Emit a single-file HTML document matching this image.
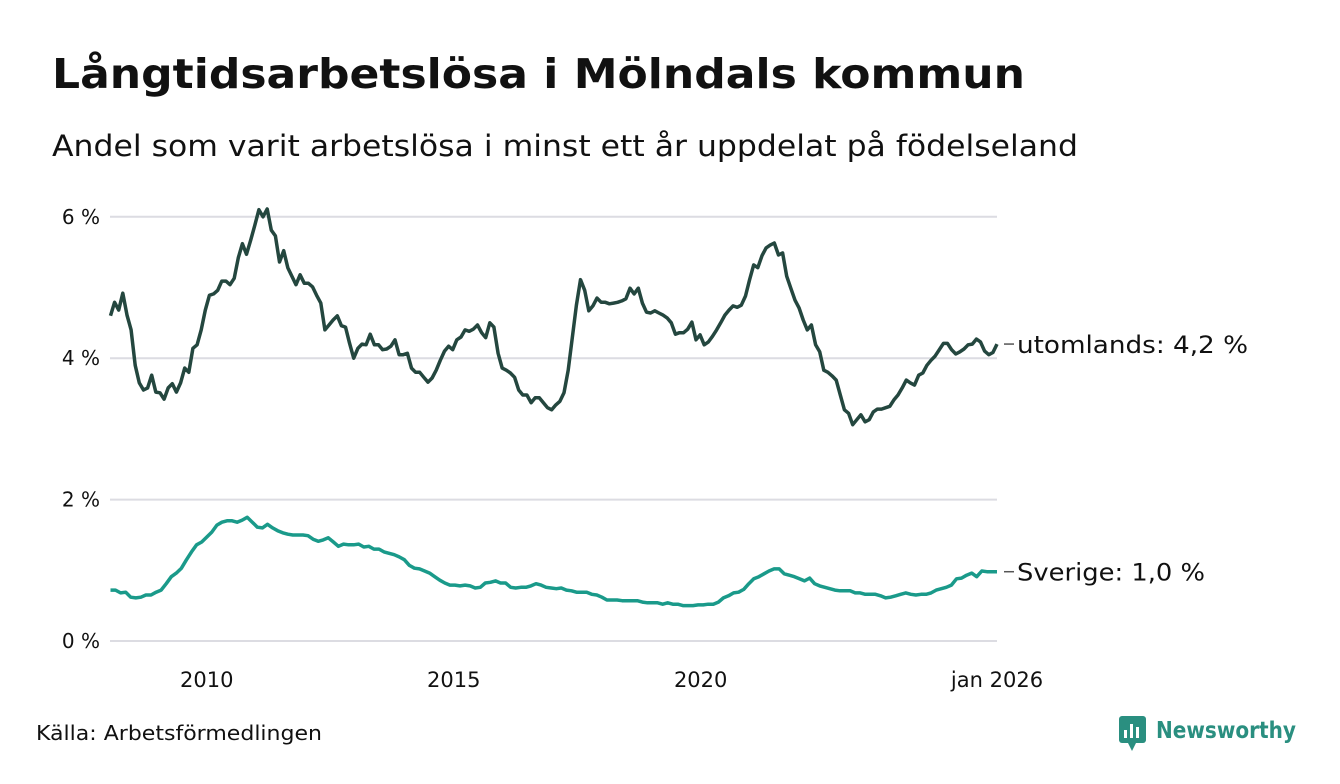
<!DOCTYPE html>
<html><head><meta charset="utf-8">
<style>
html,body{margin:0;padding:0;background:#fff;}
body{width:1340px;height:780px;overflow:hidden;font-family:"DejaVu Sans","Liberation Sans",sans-serif;color:#111;}
svg text{font-family:"DejaVu Sans","Liberation Sans",sans-serif;}
</style></head>
<body>
<svg width="1340" height="780">
<text x="52" y="88" font-size="41" font-weight="bold" fill="#111" textLength="973" lengthAdjust="spacingAndGlyphs">Långtidsarbetslösa i Mölndals kommun</text>
<text x="52" y="156" font-size="29" fill="#111" textLength="1026" lengthAdjust="spacingAndGlyphs">Andel som varit arbetslösa i minst ett år uppdelat på födelseland</text>
<g id="grid"></g>
<g id="yticks"></g>
<g id="xticks"></g>
<g id="lines"></g>
<text x="36" y="740" font-size="20" fill="#111" textLength="286" lengthAdjust="spacingAndGlyphs">Källa: Arbetsförmedlingen</text>
<g>
<rect x="1119" y="716" width="27" height="27" rx="3" fill="#2a8f80"/>
<path d="M1128 743 L1132 751 L1136 743 Z" fill="#2a8f80"/>
<rect x="1124" y="730" width="3" height="8" fill="#fff"/><rect x="1130" y="724" width="3" height="14" fill="#fff"/><rect x="1136" y="727" width="3" height="11" fill="#fff"/>
<text x="1156" y="738" font-size="23" font-weight="bold" fill="#2a8f80" textLength="140" lengthAdjust="spacingAndGlyphs">Newsworthy</text>
</g>
</svg>
<script>
const yTicks=[0,2,4,6];
const yTickLabels=["0 %","2 %","4 %","6 %"];
const xTicks=[2010,2015,2020,2026];
const xTickLabels=["2010","2015","2020","jan 2026"];
const seriesNames=["utomlands","Sverige"];
const endLabels=["utomlands: 4,2 %","Sverige: 1,0 %"];
const utomlands=[4.60,4.79,4.68,4.92,4.61,4.40,3.90,3.65,3.55,3.58,3.76,3.52,3.51,3.42,3.58,3.64,3.52,3.65,3.86,3.80,4.14,4.19,4.40,4.68,4.89,4.91,4.96,5.09,5.09,5.04,5.13,5.42,5.62,5.47,5.67,5.88,6.10,6.00,6.11,5.81,5.73,5.36,5.52,5.28,5.16,5.04,5.18,5.06,5.06,5.01,4.89,4.78,4.40,4.47,4.54,4.60,4.46,4.44,4.21,4.00,4.14,4.20,4.19,4.34,4.19,4.19,4.12,4.13,4.17,4.26,4.05,4.05,4.07,3.86,3.80,3.80,3.73,3.66,3.72,3.83,3.97,4.10,4.17,4.12,4.26,4.30,4.40,4.38,4.41,4.47,4.36,4.29,4.50,4.44,4.07,3.86,3.83,3.79,3.73,3.55,3.48,3.48,3.37,3.44,3.44,3.37,3.30,3.27,3.34,3.39,3.51,3.83,4.29,4.75,5.11,4.96,4.67,4.74,4.85,4.79,4.79,4.77,4.78,4.79,4.81,4.84,4.99,4.91,4.99,4.78,4.65,4.64,4.67,4.64,4.61,4.57,4.50,4.34,4.36,4.36,4.41,4.51,4.26,4.33,4.19,4.23,4.31,4.40,4.50,4.61,4.68,4.74,4.72,4.75,4.88,5.11,5.32,5.28,5.45,5.56,5.60,5.63,5.46,5.49,5.16,4.99,4.82,4.71,4.54,4.40,4.47,4.19,4.09,3.83,3.80,3.75,3.69,3.48,3.27,3.22,3.06,3.13,3.20,3.10,3.13,3.24,3.28,3.28,3.30,3.32,3.41,3.48,3.58,3.69,3.65,3.62,3.76,3.79,3.90,3.97,4.03,4.12,4.21,4.21,4.12,4.06,4.09,4.13,4.19,4.20,4.27,4.23,4.10,4.05,4.08,4.20];
const sverige=[0.72,0.72,0.68,0.69,0.62,0.61,0.62,0.65,0.65,0.69,0.72,0.81,0.91,0.96,1.03,1.15,1.26,1.36,1.40,1.47,1.54,1.64,1.68,1.70,1.70,1.68,1.71,1.75,1.68,1.61,1.60,1.65,1.60,1.56,1.53,1.51,1.50,1.50,1.50,1.49,1.44,1.41,1.43,1.46,1.40,1.34,1.37,1.36,1.36,1.37,1.33,1.34,1.30,1.30,1.26,1.24,1.22,1.19,1.15,1.07,1.03,1.02,0.99,0.96,0.91,0.86,0.82,0.79,0.79,0.78,0.79,0.78,0.75,0.76,0.82,0.83,0.85,0.82,0.82,0.76,0.75,0.76,0.76,0.78,0.81,0.79,0.76,0.75,0.74,0.75,0.72,0.71,0.69,0.69,0.69,0.66,0.65,0.62,0.58,0.58,0.58,0.57,0.57,0.57,0.57,0.55,0.54,0.54,0.54,0.52,0.54,0.52,0.52,0.50,0.50,0.50,0.51,0.51,0.52,0.52,0.55,0.61,0.64,0.68,0.69,0.73,0.81,0.88,0.91,0.95,0.99,1.02,1.02,0.95,0.93,0.91,0.88,0.85,0.89,0.81,0.78,0.76,0.74,0.72,0.71,0.71,0.71,0.68,0.68,0.66,0.66,0.66,0.64,0.61,0.62,0.64,0.66,0.68,0.66,0.65,0.66,0.66,0.68,0.72,0.74,0.76,0.79,0.88,0.89,0.93,0.96,0.91,0.99,0.98,0.98,0.98];
const X0=108,X1=997,Y0=641,PXV=70.7;
function xScale(year){return X0+(year-2008)*(X1-X0)/18;}
function yScale(v){return Y0-v*PXV;}
const NS="http://www.w3.org/2000/svg";
function mk(tag,attrs,parent){const e=document.createElementNS(NS,tag);for(const k in attrs)e.setAttribute(k,attrs[k]);parent.appendChild(e);return e;}
const grid=document.getElementById('grid'),yt=document.getElementById('yticks'),xt=document.getElementById('xticks'),lines=document.getElementById('lines');
yTicks.forEach((t,i)=>{
 const l=mk('line',{x1:110,x2:997,y1:yScale(t),y2:yScale(t),stroke:'#dcdce2','stroke-width':2},grid);
 
 
 const tx=mk('text',{x:100,y:yScale(t)+7,'text-anchor':'end','font-size':20,fill:'#111'},yt);
 tx.textContent=yTickLabels[i];
 
 
});
xTicks.forEach((t,i)=>{
 const tx=mk('text',{x:xScale(t),y:687,'text-anchor':'middle','font-size':21,fill:'#111'},xt);
 tx.textContent=xTickLabels[i];
 
 
});
function drawSeries(vals,color,label,len){
 const n=vals.length;
 const pts=vals.map((v,i)=>xScale(2008.05+i*(17.95/(n-1))).toFixed(1)+','+yScale(v).toFixed(1)).join(' ');
 const p=mk('polyline',{points:pts,fill:'none',stroke:color,'stroke-width':3.5,'stroke-linejoin':'round'},lines);
 
 
 const ey=yScale(vals[n-1]);
 mk('line',{x1:1004,x2:1014,y1:ey,y2:ey,stroke:'#555','stroke-width':1.5},lines);
 const tx=mk('text',{x:1017,y:ey+9,'font-size':24,fill:'#111',textLength:len,lengthAdjust:'spacingAndGlyphs'},lines);
 tx.textContent=label;
 
 
}
drawSeries(utomlands,'#24473f',endLabels[0],231);
drawSeries(sverige,'#1a9a8a',endLabels[1],188);
</script>
</body></html>
